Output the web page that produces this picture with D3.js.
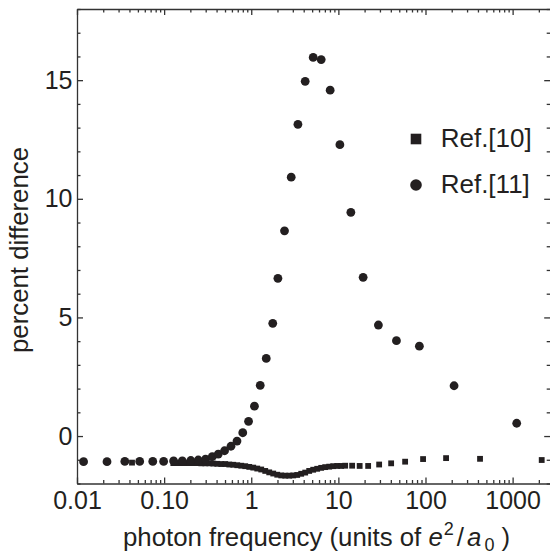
<!DOCTYPE html>
<meta charset="utf-8">
<style>
  body {
    margin: 0;
    padding: 0;
    background: #fff;
  }
  /* every text in the chart */
  svg text {
    font-family: 'Liberation Sans', Arial, Helvetica, sans-serif;
    fill: #231f20;
  }
  .axis path, .axis line {
    stroke: #333;
    stroke-width: 1.3px;
  }
</style>
<script src="https://d3js.org/d3.v7.min.js"></script>

<body>
<div id="chart"></div>

<script>

  // Ref.[11] : circles (photon frequency, percent difference)
  let circleFreq = [0.0119, 0.0221, 0.0354, 0.0524, 0.0741, 0.0987, 0.1285, 0.1617, 0.2023, 0.2466,
    0.2992, 0.357, 0.418, 0.494, 0.585, 0.686, 0.799, 0.931, 1.088, 1.268,
    1.486, 1.765, 2.023, 2.409, 2.875, 3.433, 4.16, 5.14, 6.35, 8.05,
    10.41, 13.91, 19.24, 28.8, 46.4, 85.1, 212.8, 1114];
  let circleDiff = [-1.08, -1.08, -1.07, -1.07, -1.07, -1.07, -1.05, -1.05, -1.03, -1.01,
    -0.97, -0.87, -0.76, -0.62, -0.43, -0.21, 0.14, 0.62, 1.26, 2.14,
    3.27, 4.75, 6.65, 8.65, 10.91, 13.14, 14.95, 15.96, 15.87, 14.58,
    12.28, 9.43, 6.69, 4.68, 4.02, 3.79, 2.12, 0.54];

  // Ref.[10] : squares
  let squareFreq = [0.0428, 0.1275, 0.1417, 0.1575, 0.175, 0.1945, 0.2162, 0.2402, 0.267, 0.2968,
    0.3299, 0.3666, 0.4074, 0.4529, 0.5032, 0.5594, 0.6216, 0.691, 0.768, 0.8535,
    0.9486, 1.054, 1.172, 1.302, 1.447, 1.608, 1.788, 1.987, 2.208, 2.454,
    2.728, 3.032, 3.369, 3.745, 4.162, 4.625, 5.14, 5.713, 6.349, 7.057,
    7.843, 8.716, 9.687, 10.77, 11.97, 14.39, 17.55, 21.97, 29.38, 40.34,
    58.38, 93.8, 172.3, 422.7, 2157];
  let squareDiff = [-1.12, -1.14, -1.14, -1.14, -1.14, -1.14, -1.14, -1.14, -1.15, -1.15,
    -1.15, -1.16, -1.17, -1.18, -1.18, -1.2, -1.21, -1.23, -1.25, -1.27,
    -1.3, -1.33, -1.37, -1.41, -1.47, -1.53, -1.58, -1.63, -1.66, -1.67,
    -1.67, -1.66, -1.64, -1.59, -1.54, -1.47, -1.42, -1.38, -1.34, -1.31,
    -1.29, -1.27, -1.26, -1.26, -1.25, -1.25, -1.26, -1.26, -1.2, -1.15,
    -1.08, -0.97, -0.93, -0.96, -1.01];

  // axis ticks and labels
  let xTicks = [0.01, 0.1, 1, 10, 100, 1000];
  let xTickLabels = ["0.01", "0.10", "1", "10", "100", "1000"];
  let yTicks = [0, 5, 10, 15];
  let legendLabels = ["Ref.[10]", "Ref.[11]"];

  let width = 550, height = 560;
  let color = "#231f20";

  let svg = d3.select("#chart")
    .append("svg")
    .attr("width", width)
    .attr("height", height);

  // plot frame: left 77, right just outside the picture, top 9, bottom 483.5
  let plotLeft = 77, plotRight = 550.2, plotTop = 9, plotBottom = 483.5;

  let x = d3.scaleLog().domain([0.01, 2700]).range([plotLeft, plotRight]);
  let y = d3.scaleLinear().domain([-2, 18]).range([plotBottom, plotTop]);

  // minor ticks: 2..9 of each decade, and every unit on y
  let xMinor = x.ticks().filter(v => !xTicks.some(t => Math.abs(t - v) / t < 1e-6));
  let yMinor = d3.range(-2, 19).filter(v => yTicks.indexOf(v) < 0);

  let tickFont = 25;

  // bottom axis
  svg.append("g")
    .attr("class", "axis")
    .attr("transform", `translate(0,${plotBottom})`)
    .call(d3.axisBottom(x).tickValues(xTicks).tickFormat((d, i) => xTickLabels[i])
      .tickSizeInner(-6).tickSizeOuter(0).tickPadding(7.5))
    .attr("font-size", tickFont)
    .attr("font-family", null);
  svg.append("g")
    .attr("class", "axis")
    .attr("transform", `translate(0,${plotBottom})`)
    .call(d3.axisBottom(x).tickValues(xMinor).tickFormat("").tickSizeInner(-3.5).tickSizeOuter(0))
    .select(".domain").remove();

  // top axis (ticks only, no labels)
  svg.append("g")
    .attr("class", "axis")
    .attr("transform", `translate(0,${plotTop})`)
    .call(d3.axisTop(x).tickValues(xTicks).tickFormat("").tickSizeInner(-6).tickSizeOuter(0));
  svg.append("g")
    .attr("class", "axis")
    .attr("transform", `translate(0,${plotTop})`)
    .call(d3.axisTop(x).tickValues(xMinor).tickFormat("").tickSizeInner(-3.5).tickSizeOuter(0))
    .select(".domain").remove();

  // left axis
  svg.append("g")
    .attr("class", "axis")
    .attr("transform", `translate(${plotLeft},0)`)
    .call(d3.axisLeft(y).tickValues(yTicks).tickSizeInner(-6).tickSizeOuter(0).tickPadding(4.5))
    .attr("font-size", tickFont)
    .attr("font-family", null);
  svg.append("g")
    .attr("class", "axis")
    .attr("transform", `translate(${plotLeft},0)`)
    .call(d3.axisLeft(y).tickValues(yMinor).tickFormat("").tickSizeInner(-3.5).tickSizeOuter(0))
    .select(".domain").remove();

  // right axis (ticks only)
  svg.append("g")
    .attr("class", "axis")
    .attr("transform", `translate(${plotRight},0)`)
    .call(d3.axisRight(y).tickValues(yTicks).tickFormat("").tickSizeInner(-6).tickSizeOuter(0));
  svg.append("g")
    .attr("class", "axis")
    .attr("transform", `translate(${plotRight},0)`)
    .call(d3.axisRight(y).tickValues(yMinor).tickFormat("").tickSizeInner(-3.5).tickSizeOuter(0))
    .select(".domain").remove();

  svg.selectAll(".axis text").style("fill", color);

  // squares first, circles drawn on top of them
  let sq = 5.8;
  svg.append("g")
    .selectAll("rect")
    .data(d3.zip(squareFreq, squareDiff))
    .join("rect")
    .attr("x", d => x(d[0]) - sq / 2)
    .attr("y", d => y(d[1]) - sq / 2)
    .attr("width", sq)
    .attr("height", sq)
    .attr("fill", color);

  svg.append("g")
    .selectAll("circle")
    .data(d3.zip(circleFreq, circleDiff))
    .join("circle")
    .attr("cx", d => x(d[0]))
    .attr("cy", d => y(d[1]))
    .attr("r", 4.4)
    .attr("fill", color);

  // legend
  let legend = svg.append("g").attr("transform", "translate(416,139)");
  legend.append("rect")
    .attr("x", -5.3).attr("y", -5.3)
    .attr("width", 10.6).attr("height", 10.6)
    .attr("fill", color);
  legend.append("circle")
    .attr("cx", 0).attr("cy", 46)
    .attr("r", 5.8)
    .attr("fill", color);
  legend.selectAll(".label")
    .data(legendLabels)
    .join("text")
    .attr("class", "label")
    .attr("x", 24.7)
    .attr("y", (d, i) => 7.8 + i * 46)
    .attr("font-size", 26)
    .text(d => d);

  // y title
  svg.append("text")
    .attr("transform", "translate(28,250) rotate(-90)")
    .attr("text-anchor", "middle")
    .attr("font-size", 25.8)
    .text("percent difference");

  // x title, with e^2 / a_0
  let xt = svg.append("text")
    .attr("x", 123)
    .attr("y", 546)
    .attr("font-size", 25.8);
  xt.append("tspan").text("photon frequency (units of ");
  xt.append("tspan").attr("font-style", "italic").text("e");
  xt.append("tspan").attr("dx", 1).attr("dy", -11).attr("font-size", 18).text("2");
  xt.append("tspan").attr("dx", 3).attr("dy", 11).text("/");
  xt.append("tspan").attr("dx", 3).attr("font-style", "italic").text("a");
  xt.append("tspan").attr("dx", 3).attr("dy", 5).attr("font-size", 18).text("0");
  xt.append("tspan").attr("dx", 7).attr("dy", -5).text(")");

</script>
</body>
